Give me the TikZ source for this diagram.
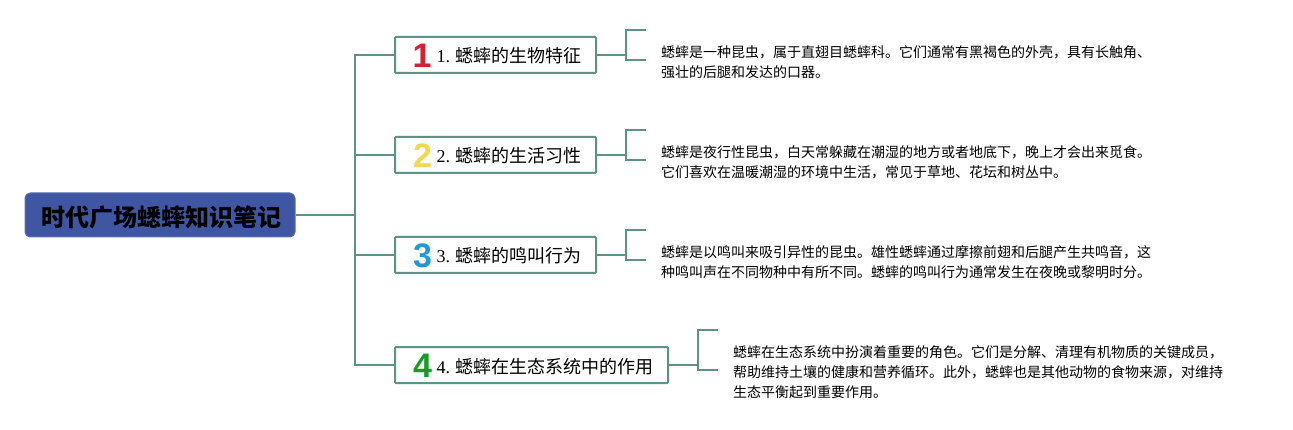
\documentclass[tikz,border=0pt]{standalone}
\usepackage{fontspec}
\usepackage{xcolor}
\setmainfont{Liberation Serif}
\newfontfamily\cjk{Noto Sans CJK SC}
\newfontfamily\digitfont{Liberation Sans}
\definecolor{linkgreen}{HTML}{5E9384}
\definecolor{rootblue}{HTML}{3F57A3}
\definecolor{iconred}{HTML}{DC1E32}
\definecolor{iconyellow}{HTML}{F5D850}
\definecolor{iconblue}{HTML}{2098DC}
\definecolor{icongreen}{HTML}{149B28}
\tikzset{
	rootbox/.style={fill=rootblue,draw=rootblue!85!white,rounded corners=5pt,line width=1pt,minimum width=270pt,minimum height=44pt,inner sep=0pt,text height=24pt,text depth=0pt,font=\cjk\bfseries\fontsize{24}{24}\selectfont},
	topicbox/.style={draw=linkgreen,line width=2pt,rounded corners=1pt,minimum height=36pt,inner sep=0pt,text height=16pt,text depth=0pt,align=right,font=\fontsize{18}{18}\selectfont},
	numicon/.style={inner sep=0pt,font=\digitfont\bfseries\fontsize{34}{34}\selectfont},
	notetext/.style={inner sep=0pt,anchor=west,align=left,font=\cjk\fontsize{14}{20}\selectfont},
	link/.style={draw=linkgreen,line width=2pt}
}
\begin{document}
\begin{tikzpicture}[x=1pt,y=-1pt]
\useasboundingbox (0,0) rectangle (1293,430);

\node[rootbox] (root) at (160,215) {\hspace{2pt}时代广场蟋蟀知识笔记};
\coordinate (spine) at (355,215);

\node[topicbox,text width=171pt,minimum width=201pt] (topic1) at (495.5,55) {1.\kern5pt{\cjk 蟋蟀的生物特征}};
\node[topicbox,text width=171pt,minimum width=201pt] (topic2) at (495.5,155) {2.\kern5pt{\cjk 蟋蟀的生活习性}};
\node[topicbox,text width=171pt,minimum width=201pt] (topic3) at (495.5,255) {3.\kern5pt{\cjk 蟋蟀的鸣叫行为}};
\node[topicbox,text width=243pt,minimum width=273pt] (topic4) at (531.5,365) {4.\kern5pt{\cjk 蟋蟀在生态系统中的作用}};

\node[numicon,text=iconred] (icon1) at (422,56) {1};
\node[numicon,text=iconyellow] (icon2) at (422.5,156) {2};
\node[numicon,text=iconblue] (icon3) at (422.5,256) {3};
\node[numicon,text=icongreen] (icon4) at (422.5,366) {4};

\node[notetext] (note1) at (661,62) {蟋蟀是一种昆虫，属于直翅目蟋蟀科。它们通常有黑褐色的外壳，具有长触角、\\强壮的后腿和发达的口器。};
\node[notetext] (note2) at (661,162) {蟋蟀是夜行性昆虫，白天常躲藏在潮湿的地方或者地底下，晚上才会出来觅食。\\它们喜欢在温暖潮湿的环境中生活，常见于草地、花坛和树丛中。};
\node[notetext] (note3) at (661,262) {蟋蟀是以鸣叫来吸引异性的昆虫。雄性蟋蟀通过摩擦前翅和后腿产生共鸣音，这\\种鸣叫声在不同物种中有所不同。蟋蟀的鸣叫行为通常发生在夜晚或黎明时分。};
\node[notetext] (note4) at (733,372) {蟋蟀在生态系统中扮演着重要的角色。它们是分解、清理有机物质的关键成员，\\帮助维持土壤的健康和营养循环。此外，蟋蟀也是其他动物的食物来源，对维持\\生态平衡起到重要作用。};

\draw[link] (root.east)--(spine);
\foreach \t in {1,2,3,4}{
	\draw[link] (spine)--(spine|-topic\t.west)--(topic\t.west);
}

\foreach \t/\y in {1/55,2/155,3/255}{
	\coordinate (up\t) at (646,\y-25);
	\coordinate (down\t) at (646,\y+5);
	\coordinate (bend\t) at (626,\y);
	\draw[link] (topic\t.east)--(bend\t);
	\draw[link] (up\t)--(bend\t|-up\t)--(bend\t|-down\t)--(down\t);
}
\coordinate (up4) at (718,330);
\coordinate (down4) at (718,370);
\coordinate (bend4) at (698,365);
\draw[link] (topic4.east)--(bend4);
\draw[link] (up4)--(bend4|-up4)--(bend4|-down4)--(down4);

\end{tikzpicture}
\end{document}
